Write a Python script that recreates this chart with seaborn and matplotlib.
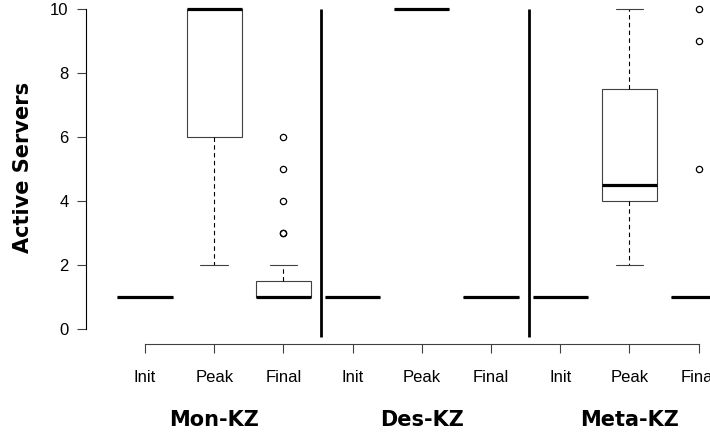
import matplotlib
matplotlib.use("Agg")
import matplotlib.pyplot as plt
import matplotlib.transforms as mtransforms
import seaborn as sns
import pandas as pd

groups = ["Mon-KZ", "Des-KZ", "Meta-KZ"]
phases = ["Init", "Peak", "Final"]

# active servers per run
mon_init = [1, 1, 1, 1, 1, 1, 1, 1, 1, 1, 1, 1]
mon_peak = [2, 4, 6, 6, 8, 10, 10, 10, 10, 10, 10, 10]
mon_final = [1, 1, 1, 1, 1, 1, 1, 1, 1, 1, 1, 1, 1, 1, 1, 1, 1, 2, 3, 3, 4, 5, 6]
des_init = [1, 1, 1, 1, 1, 1, 1, 1, 1, 1, 1, 1]
des_peak = [10, 10, 10, 10, 10, 10, 10, 10, 10, 10, 10, 10]
des_final = [1, 1, 1, 1, 1, 1, 1, 1, 1, 1, 1, 1]
meta_init = [1, 1, 1, 1, 1, 1, 1, 1, 1, 1, 1, 1]
meta_peak = [2, 4, 4, 4, 4, 4, 5, 6, 7, 9, 10, 10]
meta_final = [1, 1, 1, 1, 1, 1, 1, 1, 1, 1, 1, 1, 5, 9, 10]

series = [mon_init, mon_peak, mon_final,
          des_init, des_peak, des_final,
          meta_init, meta_peak, meta_final]

rows = []
order = []
for gi, g in enumerate(groups):
    for pi, p in enumerate(phases):
        key = g + " " + p
        order.append(key)
        for v in series[gi * 3 + pi]:
            rows.append({"cond": key, "servers": v})
df = pd.DataFrame(rows)

sns.set_theme(style="ticks")
plt.rcParams['font.family'] = ['Liberation Sans', 'DejaVu Sans']
plt.rcParams['text.color'] = 'black'

fig = plt.figure(figsize=(7.1, 4.38), dpi=100)
ax = fig.add_axes([85.7 / 710, 94 / 438, 1 - 85.7 / 710, 1 - 94 / 438])

sns.boxplot(data=df, x="cond", y="servers", order=order, ax=ax,
            color="white", linecolor="#404040", linewidth=0.8, width=0.8,
            whis=1.5, fliersize=4.5,
            medianprops=dict(color="black", linewidth=2.3, solid_capstyle="butt"),
            whiskerprops=dict(color="black", linestyle=(0, (4, 3))),
            capprops=dict(color="#404040"),
            flierprops=dict(marker="o", markersize=4.5, markerfacecolor="none",
                            markeredgecolor="black", markeredgewidth=0.9))

# separators between the three schemes
ax.vlines([2.543, 5.553], -0.25, 10, color="black", linewidth=2)

ax.set_xlim(-0.857, 8.165)
ax.set_ylim(-0.469, 10.297)
ax.set_yticks([0, 2, 4, 6, 8, 10])
ax.set_xticks(range(len(order)))
ax.set_xticklabels([p for g in groups for p in phases])
ax.set_xlabel("")
ax.set_ylabel("")

sns.despine(ax=ax)
ax.spines['left'].set_bounds(0, 10)
ax.spines['bottom'].set_bounds(0, 8)
ax.spines['left'].set_color("black")
ax.spines['bottom'].set_color("#404040")
ax.spines['left'].set_linewidth(0.8)
ax.spines['bottom'].set_linewidth(0.8)
ax.tick_params(axis='both', length=6.3, width=0.8, color="#404040",
               labelsize=12, labelcolor="black")
ax.tick_params(axis='x', pad=12.5)
ax.tick_params(axis='y', pad=6)

fig.text(23 / 710, 1 - 167 / 438, "Active Servers", rotation=90,
         ha="center", va="center", fontsize=15, fontweight="bold",
         family="DejaVu Sans", color="black")

trans = mtransforms.blended_transform_factory(ax.transData, fig.transFigure)
for gi, g in enumerate(groups):
    ax.text(gi * 3 + 1, 1 - 420 / 438, g, transform=trans, ha="center",
            va="center", fontsize=15, fontweight="bold", family="DejaVu Sans",
            color="black")

fig.savefig("out.png", dpi=100)
